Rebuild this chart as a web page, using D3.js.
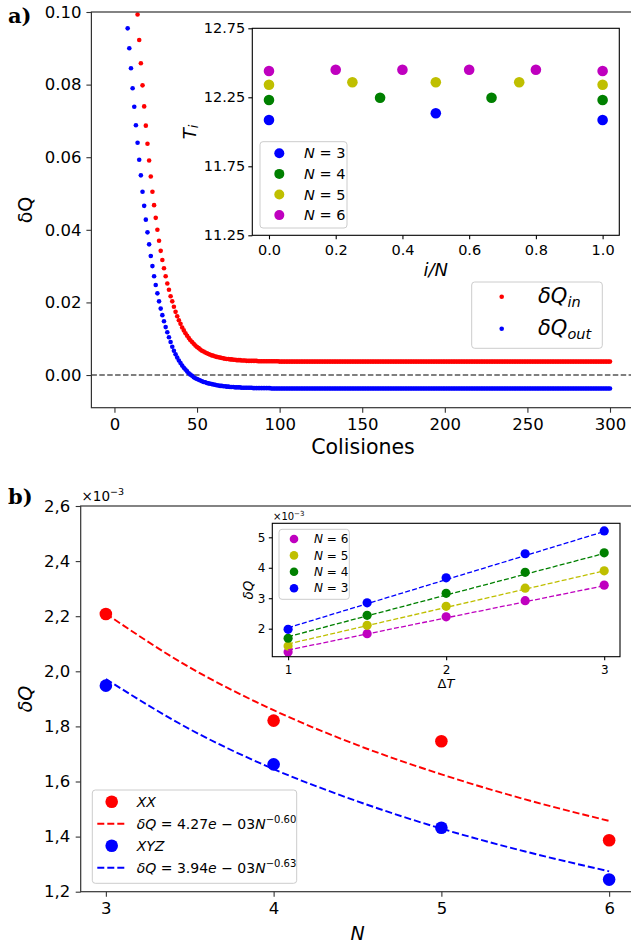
<!DOCTYPE html>
<html>
<head>
<meta charset="utf-8">
<script src="https://cdn.jsdelivr.net/npm/d3@7"></script>
<style>
  body { margin: 0; background: #fff; }
</style>
</head>
<body>
<div id="chart"></div>
<script>
// ---------- panel a) : heat per collision ----------
const inicioIn = 14; // first collision of dQ_in that falls inside the axes
const dQin = [
  0.0993, 0.0923, 0.0859, 0.0798, 0.0740, 0.0687, 0.0637, 0.0591, 0.0547, 0.0505,
  0.0468, 0.0433, 0.0400, 0.0370, 0.0342, 0.0317, 0.0294, 0.0272, 0.0252, 0.0235,
  0.0217, 0.0203, 0.0188, 0.0174, 0.0162, 0.0151, 0.0141, 0.0131, 0.0123, 0.0115,
  0.0108, 0.0102, 0.0096, 0.0091, 0.0086, 0.0081, 0.0077, 0.0074, 0.0070, 0.0067,
  0.0065, 0.0062, 0.0060, 0.0058, 0.0056, 0.0054, 0.0053, 0.0051, 0.0050, 0.0049,
  0.0048, 0.0047, 0.0046, 0.0045, 0.0044, 0.0044, 0.0043, 0.0043, 0.0042, 0.0042,
  0.0041, 0.0041, 0.0041, 0.0040, 0.0040, 0.0040, 0.0039, 0.0039, 0.0039, 0.0039,
  0.0039, 0.0039, 0.0039, 0.0038, 0.0038, 0.0038, 0.0038, 0.0038, 0.0038, 0.0038,
  0.0038, 0.0038, 0.0038, 0.0038, 0.0038, 0.0038, 0.0037, 0.0037, 0.0037, 0.0037,
  0.0037, 0.0037, 0.0037, 0.0037, 0.0037, 0.0037, 0.0037, 0.0037, 0.0037, 0.0037,
  0.0037, 0.0037, 0.0037, 0.0037, 0.0037, 0.0037, 0.0037, 0.0037, 0.0037, 0.0037,
  0.0037, 0.0037, 0.0037, 0.0037, 0.0037, 0.0037, 0.0037, 0.0037, 0.0037, 0.0037,
  0.0037, 0.0037, 0.0037, 0.0037, 0.0037, 0.0037, 0.0037, 0.0037, 0.0037, 0.0037,
  0.0037, 0.0037, 0.0037, 0.0037, 0.0037, 0.0037, 0.0037, 0.0037, 0.0037, 0.0037,
  0.0037, 0.0037, 0.0037, 0.0037, 0.0037, 0.0037, 0.0037, 0.0037, 0.0037, 0.0037,
  0.0037, 0.0037, 0.0037, 0.0037, 0.0037, 0.0037, 0.0037, 0.0037, 0.0037, 0.0037,
  0.0037, 0.0037, 0.0037, 0.0037, 0.0037, 0.0037, 0.0037, 0.0037, 0.0037, 0.0037,
  0.0037, 0.0037, 0.0037, 0.0037, 0.0037, 0.0037, 0.0037, 0.0037, 0.0037, 0.0037,
  0.0037, 0.0037, 0.0037, 0.0037, 0.0037, 0.0037, 0.0037, 0.0037, 0.0037, 0.0037,
  0.0037, 0.0037, 0.0037, 0.0037, 0.0037, 0.0037, 0.0037, 0.0037, 0.0037, 0.0037,
  0.0037, 0.0037, 0.0037, 0.0037, 0.0037, 0.0037, 0.0037, 0.0037, 0.0037, 0.0037,
  0.0037, 0.0037, 0.0037, 0.0037, 0.0037, 0.0037, 0.0037, 0.0037, 0.0037, 0.0037,
  0.0037, 0.0037, 0.0037, 0.0037, 0.0037, 0.0037, 0.0037, 0.0037, 0.0037, 0.0037,
  0.0037, 0.0037, 0.0037, 0.0037, 0.0037, 0.0037, 0.0037, 0.0037, 0.0037, 0.0037,
  0.0037, 0.0037, 0.0037, 0.0037, 0.0037, 0.0037, 0.0037, 0.0037, 0.0037, 0.0037,
  0.0037, 0.0037, 0.0037, 0.0037, 0.0037, 0.0037, 0.0037, 0.0037, 0.0037, 0.0037,
  0.0037, 0.0037, 0.0037, 0.0037, 0.0037, 0.0037, 0.0037, 0.0037, 0.0037, 0.0037,
  0.0037, 0.0037, 0.0037, 0.0037, 0.0037, 0.0037, 0.0037, 0.0037, 0.0037, 0.0037,
  0.0037, 0.0037, 0.0037, 0.0037, 0.0037, 0.0037, 0.0037
];
const inicioOut = 8; // first collision of dQ_out that falls inside the axes
const dQout = [
  0.0955, 0.0900, 0.0845, 0.0790, 0.0739, 0.0688, 0.0640, 0.0593, 0.0550, 0.0505,
  0.0466, 0.0428, 0.0393, 0.0360, 0.0328, 0.0300, 0.0272, 0.0248, 0.0225, 0.0203,
  0.0183, 0.0165, 0.0148, 0.0132, 0.0118, 0.0104, 0.0091, 0.0078, 0.0067, 0.0057,
  0.0048, 0.0040, 0.0033, 0.0026, 0.0020, 0.0015, 0.0010, 0.0005, 0.0001, -0.0002,
  -0.0006, -0.0009, -0.0011, -0.0013, -0.0015, -0.0017, -0.0019, -0.0020, -0.0022, -0.0023,
  -0.0024, -0.0025, -0.0026, -0.0027, -0.0028, -0.0029, -0.0030, -0.0030, -0.0031, -0.0031,
  -0.0032, -0.0032, -0.0033, -0.0033, -0.0033, -0.0034, -0.0034, -0.0034, -0.0034, -0.0035,
  -0.0035, -0.0035, -0.0035, -0.0035, -0.0035, -0.0035, -0.0036, -0.0036, -0.0036, -0.0036,
  -0.0036, -0.0036, -0.0036, -0.0036, -0.0036, -0.0036, -0.0036, -0.0037, -0.0037, -0.0037,
  -0.0037, -0.0037, -0.0037, -0.0037, -0.0037, -0.0037, -0.0037, -0.0037, -0.0037, -0.0037,
  -0.0037, -0.0037, -0.0037, -0.0037, -0.0037, -0.0037, -0.0037, -0.0037, -0.0037, -0.0037,
  -0.0037, -0.0037, -0.0037, -0.0037, -0.0037, -0.0037, -0.0037, -0.0037, -0.0037, -0.0037,
  -0.0037, -0.0037, -0.0037, -0.0037, -0.0037, -0.0037, -0.0037, -0.0037, -0.0037, -0.0037,
  -0.0037, -0.0037, -0.0037, -0.0037, -0.0037, -0.0037, -0.0037, -0.0037, -0.0037, -0.0037,
  -0.0037, -0.0037, -0.0037, -0.0037, -0.0037, -0.0037, -0.0037, -0.0037, -0.0037, -0.0037,
  -0.0037, -0.0037, -0.0037, -0.0037, -0.0037, -0.0037, -0.0037, -0.0037, -0.0037, -0.0037,
  -0.0037, -0.0037, -0.0037, -0.0037, -0.0037, -0.0037, -0.0037, -0.0037, -0.0037, -0.0037,
  -0.0037, -0.0037, -0.0037, -0.0037, -0.0037, -0.0037, -0.0037, -0.0037, -0.0037, -0.0037,
  -0.0037, -0.0037, -0.0037, -0.0037, -0.0037, -0.0037, -0.0037, -0.0037, -0.0037, -0.0037,
  -0.0037, -0.0037, -0.0037, -0.0037, -0.0037, -0.0037, -0.0037, -0.0037, -0.0037, -0.0037,
  -0.0037, -0.0037, -0.0037, -0.0037, -0.0037, -0.0037, -0.0037, -0.0037, -0.0037, -0.0037,
  -0.0037, -0.0037, -0.0037, -0.0037, -0.0037, -0.0037, -0.0037, -0.0037, -0.0037, -0.0037,
  -0.0037, -0.0037, -0.0037, -0.0037, -0.0037, -0.0037, -0.0037, -0.0037, -0.0037, -0.0037,
  -0.0037, -0.0037, -0.0037, -0.0037, -0.0037, -0.0037, -0.0037, -0.0037, -0.0037, -0.0037,
  -0.0037, -0.0037, -0.0037, -0.0037, -0.0037, -0.0037, -0.0037, -0.0037, -0.0037, -0.0037,
  -0.0037, -0.0037, -0.0037, -0.0037, -0.0037, -0.0037, -0.0037, -0.0037, -0.0037, -0.0037,
  -0.0037, -0.0037, -0.0037, -0.0037, -0.0037, -0.0037, -0.0037, -0.0037, -0.0037, -0.0037,
  -0.0037, -0.0037, -0.0037, -0.0037, -0.0037, -0.0037, -0.0037, -0.0037, -0.0037, -0.0037,
  -0.0037, -0.0037, -0.0037, -0.0037, -0.0037, -0.0037, -0.0037, -0.0037, -0.0037, -0.0037,
  -0.0037, -0.0037, -0.0037
];
const ticksColisiones = [0, 50, 100, 150, 200, 250, 300];
const ticksDQa = [0.00, 0.02, 0.04, 0.06, 0.08, 0.10];

// inset a) : temperature profile T_i vs i/N
const posN3 = [0, 0.5, 1];
const tempN3 = [12.086, 12.134, 12.086];
const posN4 = [0, 0.333, 0.667, 1];
const tempN4 = [12.23, 12.247, 12.247, 12.23];
const posN5 = [0, 0.25, 0.5, 0.75, 1];
const tempN5 = [12.341, 12.359, 12.359, 12.359, 12.341];
const posN6 = [0, 0.2, 0.4, 0.6, 0.8, 1];
const tempN6 = [12.441, 12.45, 12.45, 12.45, 12.45, 12.441];
const ticksPos = [0, 0.2, 0.4, 0.6, 0.8, 1.0];
const ticksTemp = [11.25, 11.75, 12.25, 12.75];

// ---------- panel b) : dQ (x10^-3) vs N ----------
const sitios = [3, 4, 5, 6];
const dQxx = [2.208, 1.821, 1.746, 1.387];
const dQxyz = [1.948, 1.662, 1.432, 1.244];
const nAjuste = [3, 3.5, 4, 4.5, 5, 5.5, 6];
const ajusteXX = [2.209, 2.014, 1.859, 1.732, 1.626, 1.535, 1.457];
const ajusteXYZ = [1.972, 1.790, 1.645, 1.528, 1.429, 1.346, 1.274];
const ticksDQb = [1.2, 1.4, 1.6, 1.8, 2.0, 2.2, 2.4, 2.6];

// inset b) : dQ (x10^-3) vs deltaT
const deltaT = [1, 1.5, 2, 2.5, 3];
const dQn3 = [1.98, 2.85, 3.67, 4.46, 5.21];
const dQn4 = [1.685, 2.44, 3.16, 3.85, 4.49];
const dQn5 = [1.43, 2.11, 2.735, 3.33, 3.90];
const dQn6 = [1.235, 1.836, 2.39, 2.92, 3.43];
const extremosDT = [1, 3];
const rectaN3 = [2.03, 5.19];
const rectaN4 = [1.737, 4.47];
const rectaN5 = [1.498, 3.90];
const rectaN6 = [1.30, 3.41];

const FONT = "DejaVu Sans, sans-serif";
const ROJO = "#ff0000", AZUL = "#0000ff";
const colN = { 3: "#0000ff", 4: "#008000", 5: "#bfbf00", 6: "#bf00bf" };

const svg = d3.select("#chart").append("svg")
  .attr("width", 631).attr("height", 945)
  .style("font-family", FONT);

function estiloEje(g, size, color) {
  g.select(".domain").remove();
  g.selectAll(".tick line").attr("stroke", color).attr("stroke-width", 1.1);
  g.selectAll(".tick text").attr("font-size", size).attr("fill", "#000").attr("font-family", FONT);
}

function marco(x, y, color, w) {
  let [x0, x1] = x.range(), [y0, y1] = y.range();
  svg.append("rect")
    .attr("x", x0).attr("y", y1).attr("width", x1 - x0).attr("height", y0 - y1)
    .attr("fill", "none").attr("stroke", color).attr("stroke-width", w);
}

function leyendaCaja(x, y, w, h) {
  svg.append("rect")
    .attr("x", x).attr("y", y).attr("width", w).attr("height", h).attr("rx", 3)
    .attr("fill", "#fff").attr("fill-opacity", 0.8)
    .attr("stroke", "#cccccc").attr("stroke-width", 1);
}

// ===== panel a =====
let xA = d3.scaleLinear().domain([-13.95, 314.95]).range([91.4, 634.7]);
let yA = d3.scaleLinear().domain([-0.009, 0.10]).range([407.7, 12]);

svg.append("defs").append("clipPath").attr("id", "clipA")
  .append("rect").attr("x", 91.4).attr("y", 12).attr("width", 543.3).attr("height", 395.7);

svg.append("line")
  .attr("x1", 91.4).attr("x2", 634.7).attr("y1", yA(0)).attr("y2", yA(0))
  .attr("stroke", "#000").attr("stroke-width", 1.1).attr("stroke-dasharray", "5.5,2.4");

let puntosA = svg.append("g").attr("clip-path", "url(#clipA)");
puntosA.selectAll(".pin").data(dQin).enter().append("circle")
  .attr("cx", (d, i) => xA(inicioIn + i)).attr("cy", (d) => yA(d))
  .attr("r", 2.3).attr("fill", ROJO);
puntosA.selectAll(".pout").data(dQout).enter().append("circle")
  .attr("cx", (d, i) => xA(inicioOut + i)).attr("cy", (d) => yA(d))
  .attr("r", 2.3).attr("fill", AZUL);

svg.append("g").attr("transform", "translate(0,407.7)")
  .call(d3.axisBottom(xA).tickValues(ticksColisiones).tickFormat(d3.format("d")).tickSize(5).tickPadding(6).tickSizeOuter(0))
  .call((g) => estiloEje(g, 16.5, "#333"));
svg.append("g").attr("transform", "translate(91.4,0)")
  .call(d3.axisLeft(yA).tickValues(ticksDQa).tickFormat(d3.format(".2f")).tickSize(5).tickPadding(5).tickSizeOuter(0))
  .call((g) => estiloEje(g, 16.5, "#333"));
marco(xA, yA, "#333", 1.2);

svg.append("text").attr("x", 363).attr("y", 453.5).attr("text-anchor", "middle")
  .attr("font-size", 20.5).text("Colisiones");
svg.append("text").attr("transform", "translate(25,210) rotate(-90)")
  .attr("text-anchor", "middle").attr("dominant-baseline", "central")
  .attr("font-size", 19).text("δQ");

// legend a
leyendaCaja(471.7, 282, 130.6, 66.3);
[[ROJO, "in", 296.7], [AZUL, "out", 328.7]].forEach(([c, sub, yy]) => {
  svg.append("circle").attr("cx", 501.7).attr("cy", yy).attr("r", 2.3).attr("fill", c);
  let t = svg.append("text").attr("x", 538).attr("y", yy + 6).attr("font-size", 21).attr("font-style", "italic");
  t.append("tspan").text("δQ");
  t.append("tspan").attr("font-size", 14.5).attr("dy", 4).text(sub);
});

// ===== inset a =====
let xI = d3.scaleLinear().domain([-0.05, 1.05]).range([252.3, 619.3]);
let yI = d3.scaleLinear().domain([11.25, 12.75]).range([235.3, 28.3]);
svg.append("rect").attr("x", 252.3).attr("y", 28.3).attr("width", 367).attr("height", 207).attr("fill", "#fff");

let seriesI = [
  [3, posN3, tempN3], [4, posN4, tempN4], [5, posN5, tempN5], [6, posN6, tempN6]
];
seriesI.forEach(([n, xs, ts]) => {
  svg.append("g").selectAll("circle").data(ts).enter().append("circle")
    .attr("cx", (d, i) => xI(xs[i])).attr("cy", (d) => yI(d))
    .attr("r", 5.3).attr("fill", colN[n]);
});

svg.append("g").attr("transform", "translate(0,235.3)")
  .call(d3.axisBottom(xI).tickValues(ticksPos).tickFormat(d3.format(".1f")).tickSize(4).tickPadding(5).tickSizeOuter(0))
  .call((g) => estiloEje(g, 14.5, "#000"));
svg.append("g").attr("transform", "translate(252.3,0)")
  .call(d3.axisLeft(yI).tickValues(ticksTemp).tickFormat(d3.format(".2f")).tickSize(4).tickPadding(3).tickSizeOuter(0))
  .call((g) => estiloEje(g, 14.5, "#000"));
marco(xI, yI, "#000", 1.1);

svg.append("text").attr("x", 435.8).attr("y", 276).attr("text-anchor", "middle")
  .attr("font-size", 18).attr("font-style", "italic").text("i/N");
let ti = svg.append("text").attr("transform", "translate(189,132) rotate(-90)")
  .attr("text-anchor", "middle").attr("dominant-baseline", "central")
  .attr("font-size", 18).attr("font-style", "italic");
ti.append("tspan").text("T");
ti.append("tspan").attr("font-size", 12.5).attr("dy", 4).text("i");

leyendaCaja(260, 141.7, 87, 86.3);
[3, 4, 5, 6].forEach((n, k) => {
  let yy = 153.3 + k * 20.6;
  svg.append("circle").attr("cx", 279.3).attr("cy", yy).attr("r", 5).attr("fill", colN[n]);
  let t = svg.append("text").attr("x", 304).attr("y", yy + 5).attr("font-size", 14.5);
  t.append("tspan").attr("font-style", "italic").text("N");
  t.append("tspan").text(" = " + n);
});

// ===== panel b =====
let xB = d3.scaleLinear().domain([2.85, 6.15]).range([80.7, 634.3]);
let yB = d3.scaleLinear().domain([1.2, 2.6]).range([891.7, 506]);

let curva = d3.line().x((d, i) => xB(nAjuste[i])).y((d) => yB(d)).curve(d3.curveMonotoneX);
[[ajusteXX, ROJO], [ajusteXYZ, AZUL]].forEach(([vals, c]) => {
  svg.append("path").datum(vals).attr("d", curva)
    .attr("fill", "none").attr("stroke", c).attr("stroke-width", 1.9).attr("stroke-dasharray", "7,3");
});
[[dQxx, ROJO], [dQxyz, AZUL]].forEach(([vals, c]) => {
  svg.append("g").selectAll("circle").data(vals).enter().append("circle")
    .attr("cx", (d, i) => xB(sitios[i])).attr("cy", (d) => yB(d))
    .attr("r", 6.3).attr("fill", c);
});

svg.append("g").attr("transform", "translate(0,891.7)")
  .call(d3.axisBottom(xB).tickValues(sitios).tickFormat(d3.format("d")).tickSize(5).tickPadding(6).tickSizeOuter(0))
  .call((g) => estiloEje(g, 16.5, "#333"));
svg.append("g").attr("transform", "translate(80.7,0)")
  .call(d3.axisLeft(yB).tickValues(ticksDQb).tickFormat((d) => d3.format(".1f")(d).replace(".", ","))
    .tickSize(5).tickPadding(5.5).tickSizeOuter(0))
  .call((g) => estiloEje(g, 16.5, "#333"));
marco(xB, yB, "#333", 1.2);

let expB = svg.append("text").attr("x", 81.5).attr("y", 501).attr("font-size", 13.5);
expB.append("tspan").text("×10");
expB.append("tspan").attr("font-size", 9.5).attr("dy", -6).text("−3");

svg.append("text").attr("x", 357.5).attr("y", 940).attr("text-anchor", "middle")
  .attr("font-size", 19).attr("font-style", "italic").text("N");
svg.append("text").attr("transform", "translate(25,699) rotate(-90)")
  .attr("text-anchor", "middle").attr("dominant-baseline", "central")
  .attr("font-size", 19).attr("font-style", "italic").text("δQ");

// legend b
leyendaCaja(92.3, 790, 204.4, 93.3);
function textoAjuste(yy, coef, expo) {
  let t = svg.append("text").attr("x", 136.7).attr("y", yy + 5).attr("font-size", 14);
  t.append("tspan").attr("font-style", "italic").text("δQ");
  t.append("tspan").text(" = " + coef);
  t.append("tspan").attr("font-style", "italic").text("e");
  t.append("tspan").text(" − 03");
  t.append("tspan").attr("font-style", "italic").text("N");
  t.append("tspan").attr("font-size", 10).attr("dy", -6).text("−" + expo);
}
[[ROJO, "XX", 801.7, "4.27", "0.60"], [AZUL, "XYZ", 845.7, "3.94", "0.63"]].forEach(([c, nom, yy, coef, expo]) => {
  svg.append("circle").attr("cx", 111.7).attr("cy", yy).attr("r", 6.3).attr("fill", c);
  svg.append("text").attr("x", 136.7).attr("y", yy + 5).attr("font-size", 14).attr("font-style", "italic").text(nom);
  svg.append("line").attr("x1", 97.3).attr("x2", 125.7).attr("y1", yy + 22).attr("y2", yy + 22)
    .attr("stroke", c).attr("stroke-width", 1.9).attr("stroke-dasharray", "7,3");
  textoAjuste(yy + 22, coef, expo);
});

// ===== inset b =====
let xC = d3.scaleLinear().domain([0.9, 3.1]).range([272.3, 620]);
let yC = d3.scaleLinear().domain([1.08, 5.46]).range([656.7, 523.3]);
svg.append("rect").attr("x", 272.3).attr("y", 523.3).attr("width", 347.7).attr("height", 133.4).attr("fill", "#fff");

let seriesC = [[6, dQn6, rectaN6], [5, dQn5, rectaN5], [4, dQn4, rectaN4], [3, dQn3, rectaN3]];
seriesC.forEach(([n, vals]) => {
  svg.append("g").selectAll("circle").data(vals).enter().append("circle")
    .attr("cx", (d, i) => xC(deltaT[i])).attr("cy", (d) => yC(d))
    .attr("r", 4.6).attr("fill", colN[n]);
});
let recta = d3.line().x((d, i) => xC(extremosDT[i])).y((d) => yC(d));
seriesC.forEach(([n, vals, r]) => {
  svg.append("path").datum(r).attr("d", recta)
    .attr("fill", "none").attr("stroke", colN[n]).attr("stroke-width", 1.3).attr("stroke-dasharray", "5,2.2");
});

svg.append("g").attr("transform", "translate(0,656.7)")
  .call(d3.axisBottom(xC).tickValues([1, 2, 3]).tickFormat(d3.format("d")).tickSize(3.5).tickPadding(5).tickSizeOuter(0))
  .call((g) => estiloEje(g, 12, "#000"));
svg.append("g").attr("transform", "translate(272.3,0)")
  .call(d3.axisLeft(yC).tickValues([2, 3, 4, 5]).tickFormat(d3.format("d")).tickSize(3.5).tickPadding(3.5).tickSizeOuter(0))
  .call((g) => estiloEje(g, 12, "#000"));
marco(xC, yC, "#000", 1.1);

let expC = svg.append("text").attr("x", 273).attr("y", 519.5).attr("font-size", 10);
expC.append("tspan").text("×10");
expC.append("tspan").attr("font-size", 7).attr("dy", -4).text("−3");

let dt = svg.append("text").attr("x", 446).attr("y", 688).attr("text-anchor", "middle").attr("font-size", 13);
dt.append("tspan").text("Δ");
dt.append("tspan").attr("font-style", "italic").text("T");
svg.append("text").attr("transform", "translate(248,590) rotate(-90)")
  .attr("text-anchor", "middle").attr("dominant-baseline", "central")
  .attr("font-size", 13.5).attr("font-style", "italic").text("δQ");

leyendaCaja(279, 529.3, 70.3, 70);
[6, 5, 4, 3].forEach((n, k) => {
  let yy = 539 + k * 16.4;
  svg.append("circle").attr("cx", 294).attr("cy", yy).attr("r", 4.3).attr("fill", colN[n]);
  let t = svg.append("text").attr("x", 314).attr("y", yy + 4.2).attr("font-size", 12);
  t.append("tspan").attr("font-style", "italic").text("N");
  t.append("tspan").text(" = " + n);
});

// panel letters
svg.append("text").attr("x", 8).attr("y", 23).attr("font-family", "DejaVu Serif, serif")
  .attr("font-weight", "bold").attr("font-size", 21).text("a)");
svg.append("text").attr("x", 8).attr("y", 504).attr("font-family", "DejaVu Serif, serif")
  .attr("font-weight", "bold").attr("font-size", 21).text("b)");
</script>
</body>
</html>
